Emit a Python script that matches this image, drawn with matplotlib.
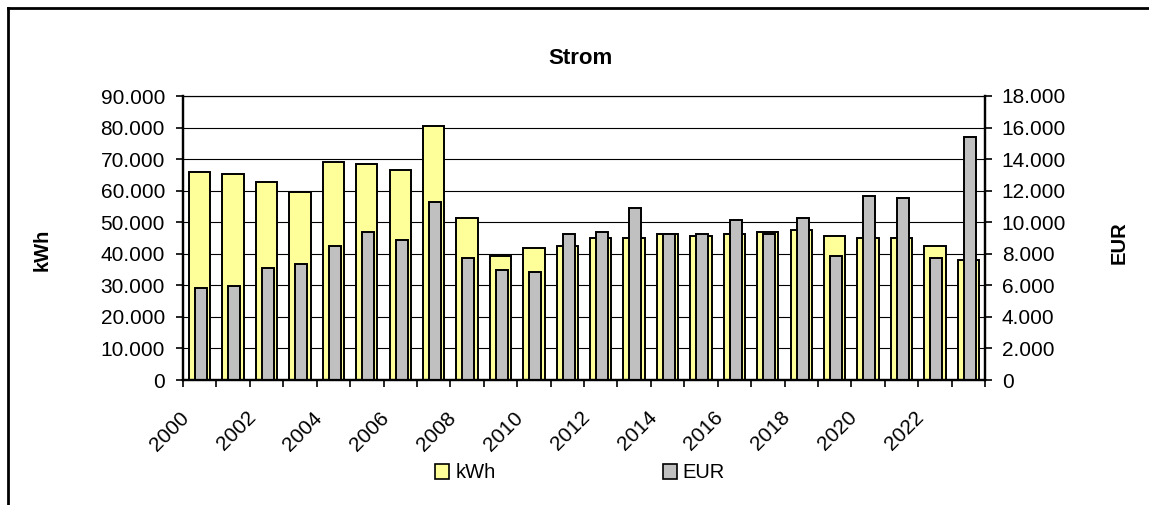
import matplotlib
matplotlib.use("Agg")
import matplotlib.pyplot as plt
from matplotlib.lines import Line2D
from matplotlib.ticker import FuncFormatter, MultipleLocator
import numpy as np

plt.rcParams['font.family'] = ['Liberation Sans', 'DejaVu Sans']

years = list(range(2000, 2024))
kwh = [65800, 65300, 62700, 59500, 69000, 68400, 66500, 80400, 51200, 39300,
       41800, 42500, 45000, 45000, 46200, 45700, 46200, 46900, 47500, 45700,
       45000, 45000, 42500, 38000]
eur = [5830, 5980, 7120, 7370, 8510, 9380, 8870, 11260, 7750, 6980,
       6860, 9250, 9380, 10900, 9250, 9250, 10140, 9250, 10290, 7880,
       11660, 11530, 7730, 15420]

yellow = '#FFFF99'
grey = '#C0C0C0'


def de_fmt(v, pos):
    return f'{int(round(v)):,}'.replace(',', '.')


fig = plt.figure(figsize=(11.49, 5.05), dpi=100)
ax = fig.add_axes([183 / 1149, 1 - 380 / 505, (985 - 183) / 1149, (380 - 96) / 505])
ax2 = ax.twinx()

x = np.arange(len(years))
ax.bar(x, kwh, width=0.64, color=yellow, edgecolor='black', linewidth=1.4, zorder=2)
ax2.bar(x + 0.04, eur, width=0.36, color=grey, edgecolor='black', linewidth=1.4, zorder=2)

ax.set_xlim(-0.5, len(years) - 0.5)
ax.set_ylim(0, 90000)
ax2.set_ylim(0, 18000)
ax.yaxis.set_major_locator(MultipleLocator(10000))
ax2.yaxis.set_major_locator(MultipleLocator(2000))
ax.yaxis.set_major_formatter(FuncFormatter(de_fmt))
ax2.yaxis.set_major_formatter(FuncFormatter(de_fmt))

ax.grid(axis='y', color='black', linewidth=0.8, zorder=0)
ax.set_axisbelow(True)

# x: tick marks between categories, labels on every second year
ax.set_xticks(np.arange(-0.5, len(years)), minor=True)
ax.set_xticks(x[::2] - 0.42)
ax.set_xticklabels([str(y) for y in years[::2]])
ax.tick_params(axis='x', which='minor', length=5, width=1.2, direction='out')
ax.tick_params(axis='x', which='major', length=0, pad=25, labelsize=15)
plt.setp(ax.get_xticklabels(), rotation=45, ha='right', va='center', rotation_mode='anchor')

ax.tick_params(axis='y', length=5, width=1.2, pad=8, labelsize=15)
ax2.tick_params(axis='y', length=5, width=1.2, pad=7, labelsize=15)

for a in (ax, ax2):
    for side in ('left', 'right', 'bottom'):
        a.spines[side].set_linewidth(1.6)
    a.spines['top'].set_linewidth(0.8)

fig.text(580 / 1149, 1 - 58 / 505, 'Strom', ha='center', va='center',
         fontsize=16, fontweight='bold')
fig.text(42 / 1149, 1 - 250 / 505, 'kWh', ha='center', va='center',
         rotation=90, fontsize=14.5, fontweight='bold')
fig.text(1119 / 1149, 1 - 243 / 505, 'EUR', ha='center', va='center',
         rotation=90, fontsize=14.5, fontweight='bold')

handles = [plt.Rectangle((0, 0), 1, 1, facecolor=yellow, edgecolor='black', linewidth=1.2),
           plt.Rectangle((0, 0), 1, 1, facecolor=grey, edgecolor='black', linewidth=1.2)]
fig.legend(handles, ['kWh', 'EUR'], loc='center', bbox_to_anchor=(580 / 1149, 1 - 473 / 505),
           ncol=2, frameon=False, fontsize=14.5, handlelength=0.7, handleheight=0.7,
           handletextpad=0.3, columnspacing=8.3, borderpad=0)

# chart area border (only top and left edges visible)
fig.add_artist(Line2D([8 / 1149, 1.01], [1 - 8 / 505, 1 - 8 / 505],
                      transform=fig.transFigure, color='black', linewidth=2))
fig.add_artist(Line2D([8 / 1149, 8 / 1149], [1 - 8 / 505, -0.01],
                      transform=fig.transFigure, color='black', linewidth=2))

fig.savefig('out.png', dpi=100)
